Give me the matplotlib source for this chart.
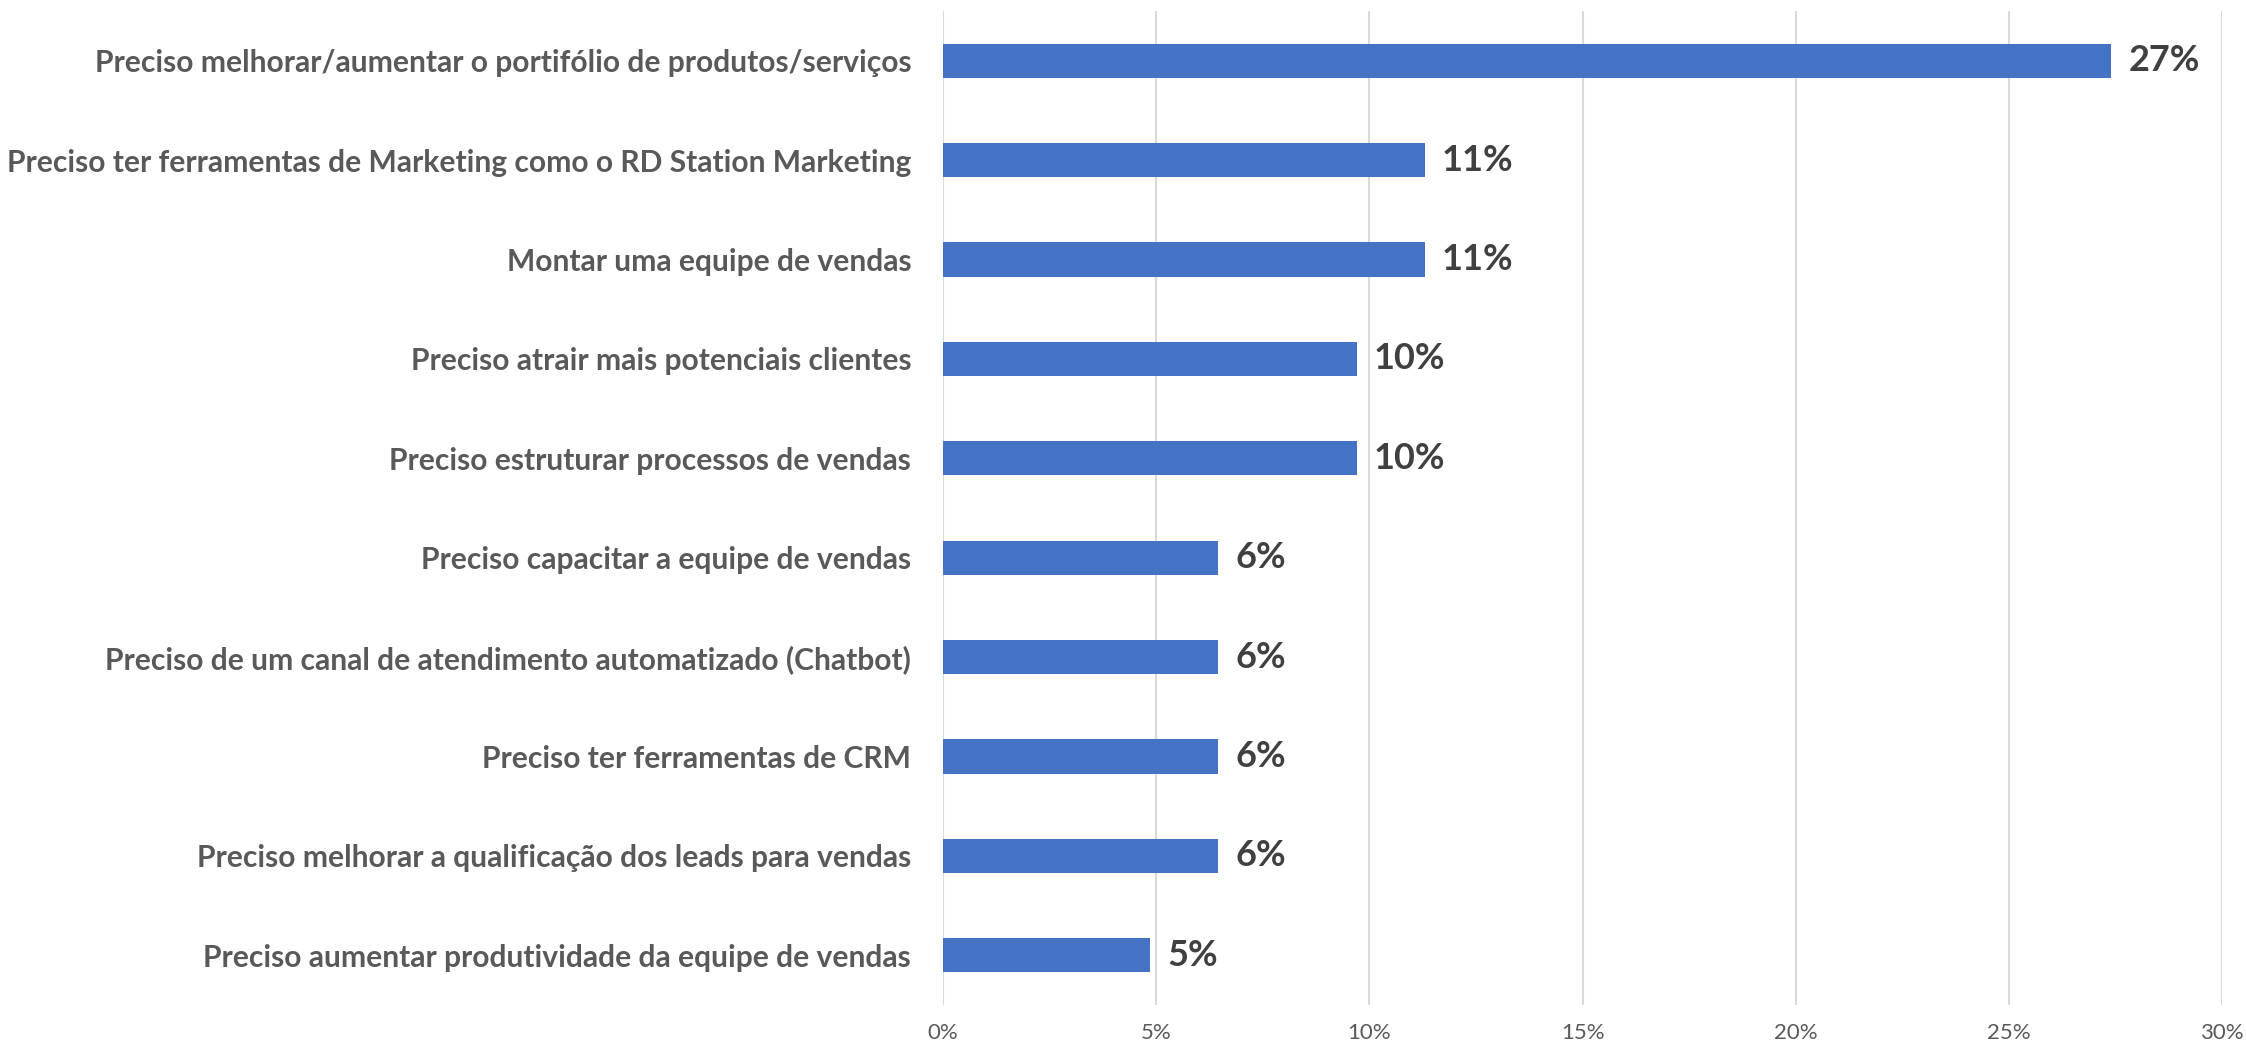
import matplotlib
matplotlib.use('Agg')
import matplotlib.pyplot as plt
from matplotlib.ticker import MultipleLocator, PercentFormatter

plt.rcParams['font.family'] = ['Lato', 'DejaVu Sans']

categorias = [
    'Preciso melhorar/aumentar o portifólio de produtos/serviços',
    'Preciso ter ferramentas de Marketing como o RD Station Marketing',
    'Montar uma equipe de vendas',
    'Preciso atrair mais potenciais clientes',
    'Preciso estruturar processos de vendas',
    'Preciso capacitar a equipe de vendas',
    'Preciso de um canal de atendimento automatizado (Chatbot)',
    'Preciso ter ferramentas de CRM',
    'Preciso melhorar a qualificação dos leads para vendas',
    'Preciso aumentar produtividade da equipe de vendas',
]
valores = [27.4, 11.3, 11.3, 9.7, 9.7, 6.45, 6.45, 6.45, 6.45, 4.85]
rotulos = ['27%', '11%', '11%', '10%', '10%', '6%', '6%', '6%', '6%', '5%']

fig = plt.figure(figsize=(22.46, 10.47), dpi=100)
ax = fig.add_axes([0.4199, 0.0401, 0.5694, 0.9494])

pos = list(range(len(categorias)))
ax.barh(pos, valores, height=0.345, color='#4472C4', zorder=3)
ax.set_ylim(len(categorias) - 0.5, -0.5)
ax.set_xlim(0, 30)
ax.xaxis.set_major_locator(MultipleLocator(5))
ax.xaxis.set_major_formatter(PercentFormatter(decimals=0))

ax.set_yticks(pos)
ax.set_yticklabels(categorias, fontsize=21.6, fontweight='bold', color='#595959')
ax.tick_params(axis='y', length=0, pad=23)
ax.tick_params(axis='x', length=0, pad=13, labelsize=16, labelcolor='#595959')

ax.grid(axis='x', color='#d9d9d9', linewidth=1.5, zorder=0)
for s in ax.spines.values():
    s.set_visible(False)

for i, (v, r) in enumerate(zip(valores, rotulos)):
    ax.text(v + 0.4, i, r, va='center', ha='left', fontsize=26,
            fontweight='bold', color='#404040')

fig.savefig('out.png', dpi=100)
